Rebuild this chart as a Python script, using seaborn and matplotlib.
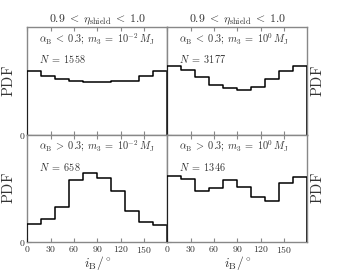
#!/usr/bin/env python3

import pandas as pd
import seaborn as sns
import matplotlib.pyplot as plt

# Bin edges in inclination (deg), 10 bins of 18 deg
edges = list(range(0, 181, 18))

# PDF heights (arbitrary units, axis top = 1)
pdf_tl = [0.593, 0.546, 0.515, 0.500, 0.488, 0.488, 0.497, 0.503, 0.546, 0.593]
pdf_tr = [0.634, 0.599, 0.531, 0.462, 0.434, 0.419, 0.438, 0.513, 0.593, 0.637]
pdf_bl = [0.172, 0.218, 0.332, 0.575, 0.646, 0.597, 0.474, 0.289, 0.185, 0.163]
pdf_br = [0.619, 0.587, 0.474, 0.508, 0.582, 0.513, 0.418, 0.379, 0.554, 0.603]

labels_tl = [r"$\alpha_{\rm B}\;<\;0.3$; $m_3\;=\;10^{-2}\,M_{\rm J}$", r"$N\;=\;1558$"]
labels_tr = [r"$\alpha_{\rm B}\;<\;0.3$; $m_3\;=\;10^{0}\,M_{\rm J}$", r"$N\;=\;3177$"]
labels_bl = [r"$\alpha_{\rm B}\;>\;0.3$; $m_3\;=\;10^{-2}\,M_{\rm J}$", r"$N\;=\;658$"]
labels_br = [r"$\alpha_{\rm B}\;>\;0.3$; $m_3\;=\;10^{0}\,M_{\rm J}$", r"$N\;=\;1346$"]

title = r"$0.9\;<\;\eta_{\rm shield}\;<\;1.0$"
xticks = [0, 30, 60, 90, 120, 150]

sns.set_theme(style="ticks")
plt.rcParams["font.family"] = "serif"
plt.rcParams["font.serif"] = ["cmr10"]
plt.rcParams["mathtext.fontset"] = "cm"
plt.rcParams["axes.formatter.use_mathtext"] = True

grey = "#888888"
text_col = "#333333"

fig, axes = plt.subplots(2, 2, figsize=(3.43, 2.70), dpi=100)
fig.subplots_adjust(left=0.08, right=0.8965, top=0.90, bottom=0.1026,
                    wspace=0, hspace=0)

centers = [0.5 * (a + b) for a, b in zip(edges[:-1], edges[1:])]
panels = [(axes[0, 0], pdf_tl, labels_tl), (axes[0, 1], pdf_tr, labels_tr),
          (axes[1, 0], pdf_bl, labels_bl), (axes[1, 1], pdf_br, labels_br)]

for i, (ax, vals, labs) in enumerate(panels):
    df = pd.DataFrame({"inc": centers, "pdf": vals})
    sns.histplot(data=df, x="inc", weights="pdf", bins=edges, element="step",
                 fill=False, color="black", linewidth=1.1, ax=ax, zorder=3)
    # drop the step outline down to zero at both ends
    ax.vlines([edges[0], edges[-1]], 0, [vals[0], vals[-1]],
              color="black", linewidth=1.1, zorder=3)
    ax.set_xlim(edges[0], edges[-1])
    ax.set_ylim(0, 1)
    for s in ax.spines.values():
        s.set_color(grey)
        s.set_linewidth(1.0)
    ax.tick_params(axis="both", direction="in", color=grey, length=3,
                   width=0.8, labelsize=7, labelcolor=text_col, pad=1.5)
    ax.tick_params(axis="x", top=True)
    ax.set_xticks(xticks)
    ax.set_yticks([0])
    ax.set_xlabel("")
    ax.set_ylabel("")
    row, col = divmod(i, 2)
    if row == 0:
        ax.set_xticklabels([])
        ax.set_title(title, fontsize=8.5, color=text_col, pad=2)
    if col == 1:
        ax.set_yticklabels([])
        ax.yaxis.set_label_position("right")
    ax.set_ylabel(r"$\mathrm{PDF}$", fontsize=10.5, color=text_col, labelpad=2)
    ax.text(0.08, 0.895, labs[0], transform=ax.transAxes, fontsize=7.4,
            color=text_col, va="center")
    ax.text(0.08, 0.70, labs[1], transform=ax.transAxes, fontsize=7.4,
            color=text_col, va="center")
    if row == 1:
        ax.set_xlabel(r"$i_{\rm B}/^{\circ}$", fontsize=9.8, color=text_col)
        ax.xaxis.set_label_coords(0.5, -0.108)

plt.savefig("out.png", dpi=100)
